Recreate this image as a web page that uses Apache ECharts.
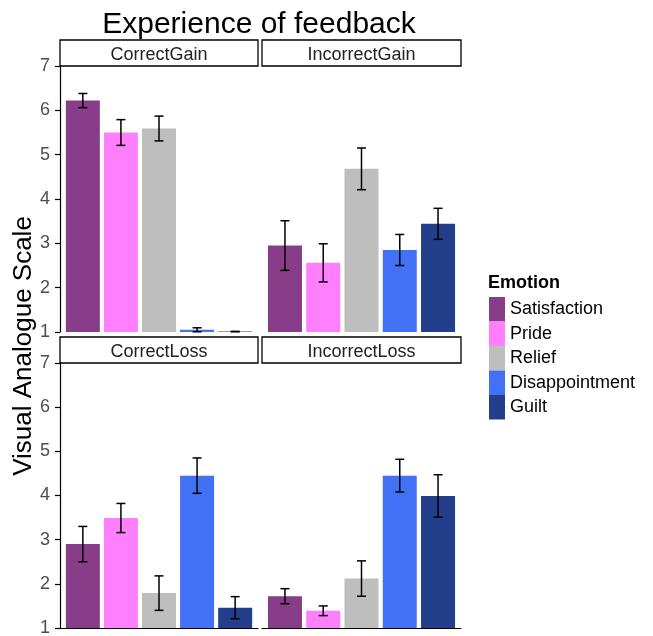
<!DOCTYPE html>
<html><head><meta charset="utf-8">
<script src="https://cdn.jsdelivr.net/npm/echarts@6/dist/echarts.min.js"></script>
<style>html,body{margin:0;padding:0;background:#fff}#c{width:653px;height:636px}</style>
</head><body><div id="c"></div>
<script>
const emotions = ['Satisfaction', 'Pride', 'Relief', 'Disappointment', 'Guilt'];
const colors = ['#873D87', '#FF7FFF', '#BEBEBE', '#4271F5', '#233E8B'];
const panels = ['CorrectGain', 'IncorrectGain', 'CorrectLoss', 'IncorrectLoss'];

const correctGainMean   = [6.22, 5.50, 5.59, 1.05, 1.01];
const correctGainErr    = [0.16, 0.29, 0.28, 0.045, 0.005];
const incorrectGainMean = [2.95, 2.56, 4.68, 2.85, 3.44];
const incorrectGainErr  = [0.56, 0.43, 0.47, 0.35, 0.35];
const correctLossMean   = [2.90, 3.49, 1.79, 4.45, 1.46];
const correctLossErr    = [0.40, 0.33, 0.39, 0.40, 0.25];
const incorrectLossMean = [1.72, 1.39, 2.12, 4.45, 3.99];
const incorrectLossErr  = [0.17, 0.11, 0.40, 0.37, 0.48];

const yMin = 1, yMax = 7, yStep = 1;

const means = [correctGainMean, incorrectGainMean, correctLossMean, incorrectLossMean];
const errs = [correctGainErr, incorrectGainErr, correctLossErr, incorrectLossErr];

const FONT = 'Liberation Sans, Arial, sans-serif';
const gridRects = [
  {left: 60, top: 66, width: 198, height: 266},
  {left: 262, top: 66, width: 199, height: 266},
  {left: 60, top: 363, width: 198, height: 265},
  {left: 262, top: 363, width: 199, height: 265}
];
const stripRects = [
  {x: 60, y: 40, w: 198, h: 26},
  {x: 262, y: 40, w: 199, h: 26},
  {x: 60, y: 337, w: 198, h: 26},
  {x: 262, y: 337, w: 199, h: 26}
];

const grid = gridRects.map(g => Object.assign({containLabel: false, outerBoundsMode: 'none'}, g));
grid.push({left: 0, top: 0, width: 1, height: 1, show: false});

const xAxis = panels.map((p, i) => ({
  type: 'value', gridIndex: i, min: 0.4, max: 5.6,
  axisLabel: {show: false}, axisTick: {show: false}, splitLine: {show: false},
  axisLine: {show: i >= 2, onZero: false, lineStyle: {color: '#000', width: 1.2}}
}));
xAxis.push({type: 'value', gridIndex: 4, show: false});

const yAxis = panels.map((p, i) => ({
  type: 'value', gridIndex: i, min: yMin, max: yMax, interval: yStep,
  show: i % 2 === 0,
  splitLine: {show: false},
  axisLine: {show: true, onZero: false, lineStyle: {color: '#000', width: 1.2}},
  axisTick: {show: true, length: 5, lineStyle: {color: '#000', width: 1.2}},
  axisLabel: {show: true, margin: 10, fontSize: 18, color: '#4d4d4d', fontFamily: FONT}
}));
yAxis.push({type: 'value', gridIndex: 4, show: false});

const series = [];
panels.forEach((p, pi) => {
  series.push({
    type: 'bar', name: p, xAxisIndex: pi, yAxisIndex: pi, barWidth: 34,
    clip: true, silent: true, z: 2,
    data: means[pi].map((v, i) => ({value: [i + 1, v], itemStyle: {color: colors[i]}}))
  });
  series.push({
    type: 'custom', name: p + ' err', xAxisIndex: pi, yAxisIndex: pi, silent: true, z: 10,
    encode: {x: 0, y: [1, 2]},
    data: means[pi].map((m, i) => [i + 1, m - errs[pi][i], m + errs[pi][i]]),
    renderItem: function (params, api) {
      const x = api.value(0);
      const lo = api.coord([x, api.value(1)]);
      const hi = api.coord([x, api.value(2)]);
      const hw = 4.5;
      const st = {stroke: '#000', lineWidth: 1.5, fill: null};
      return {type: 'group', children: [
        {type: 'line', shape: {x1: lo[0], y1: lo[1], x2: hi[0], y2: hi[1]}, style: st},
        {type: 'line', shape: {x1: lo[0] - hw, y1: lo[1], x2: lo[0] + hw, y2: lo[1]}, style: st},
        {type: 'line', shape: {x1: hi[0] - hw, y1: hi[1], x2: hi[0] + hw, y2: hi[1]}, style: st}
      ]};
    }
  });
});
emotions.forEach((e, i) => {
  series.push({type: 'bar', name: e, xAxisIndex: 4, yAxisIndex: 4, data: [], itemStyle: {color: colors[i]}});
});

const graphic = [];
graphic.push({type: 'text', x: 259, y: 24.5, style: {text: 'Experience of feedback', fontSize: 30, fontFamily: FONT, fill: '#000', textAlign: 'center', textVerticalAlign: 'middle', align: 'center', verticalAlign: 'middle'}});
graphic.push({type: 'text', x: 24, y: 346, rotation: Math.PI / 2, style: {text: 'Visual Analogue Scale', fontSize: 26, fontFamily: FONT, fill: '#000', textAlign: 'center', textVerticalAlign: 'middle', align: 'center', verticalAlign: 'middle'}});
stripRects.forEach((s, i) => {
  graphic.push({type: 'rect', shape: {x: s.x, y: s.y, width: s.w, height: s.h}, style: {fill: '#fff', stroke: '#000', lineWidth: 1.3}});
  graphic.push({type: 'text', x: s.x + s.w / 2, y: s.y + s.h / 2 + 2, style: {text: panels[i], fontSize: 18, fontFamily: FONT, fill: '#222', textAlign: 'center', textVerticalAlign: 'middle', align: 'center', verticalAlign: 'middle'}});
});
graphic.push({type: 'text', x: 488, y: 283.5, style: {text: 'Emotion', fontSize: 18, fontWeight: 'bold', fontFamily: FONT, fill: '#000', textAlign: 'left', textVerticalAlign: 'middle', align: 'left', verticalAlign: 'middle'}});

const chart = echarts.init(document.getElementById('c'), null, {renderer: 'canvas'});
chart.setOption({
  animation: false,
  backgroundColor: '#fff',
  textStyle: {fontFamily: FONT},
  grid: grid,
  xAxis: xAxis,
  yAxis: yAxis,
  legend: {
    orient: 'vertical', left: 489, top: 297, padding: 0,
    itemWidth: 16, itemHeight: 24.5, itemGap: 0, icon: 'rect', selectedMode: false,
    textStyle: {fontSize: 18, color: '#000', fontFamily: FONT},
    data: emotions
  },
  series: series,
  graphic: graphic
});
</script>
</body></html>
